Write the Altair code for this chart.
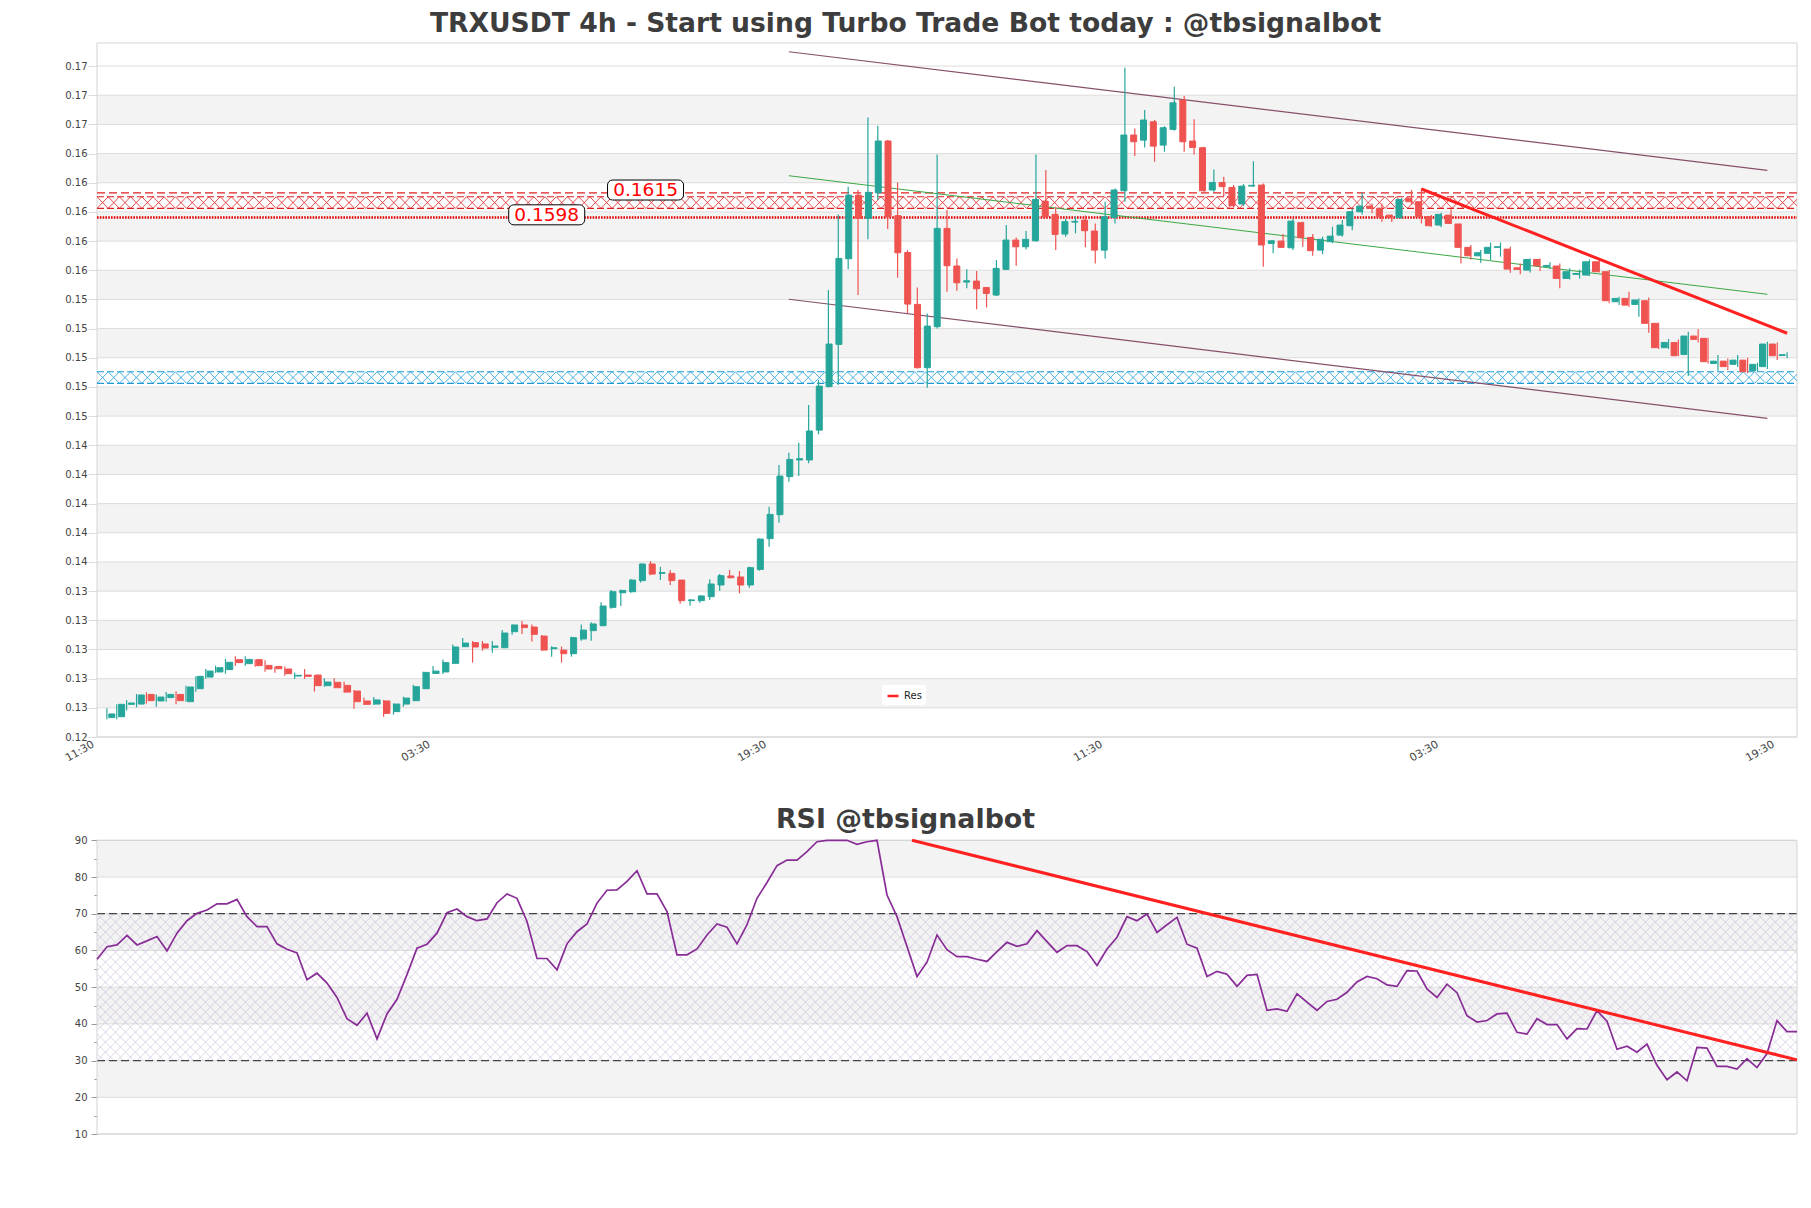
import json
import altair as alt
import pandas as pd

TITLE = "TRXUSDT 4h - Start using Turbo Trade Bot today : @tbsignalbot"
RSI_TITLE = "RSI @tbsignalbot"

opens = [
0.12533, 0.12539, 0.12624, 0.12626, 0.12692, 0.12647, 0.12670, 0.12692, 0.12642, 0.12731,
0.12811, 0.12846, 0.12862, 0.12930, 0.12903, 0.12930, 0.12891, 0.12884, 0.12866, 0.12818,
0.12825, 0.12825, 0.12752, 0.12775, 0.12754, 0.12715, 0.12647, 0.12626, 0.12647, 0.12574,
0.12626, 0.12649, 0.12731, 0.12836, 0.12846, 0.12905, 0.13019, 0.13047, 0.13038, 0.13015,
0.13012, 0.13122, 0.13168, 0.13154, 0.13092, 0.13006, 0.12996, 0.12971, 0.13072, 0.13129,
0.13163, 0.13289, 0.13389, 0.13396, 0.13472, 0.13586, 0.13522, 0.13522, 0.13476, 0.13335,
0.13335, 0.13362, 0.13442, 0.13504, 0.13497, 0.13442, 0.13549, 0.13760, 0.13924, 0.14185,
0.14299, 0.14299, 0.14504, 0.14802, 0.15092, 0.15679, 0.16115, 0.15955, 0.16131, 0.16486,
0.15974, 0.15722, 0.15366, 0.14932, 0.15213, 0.15887, 0.15629, 0.15519, 0.15526, 0.15482,
0.15430, 0.15606, 0.15807, 0.15761, 0.15802, 0.16074, 0.15983, 0.15848, 0.15930, 0.15944,
0.15869, 0.15738, 0.15962, 0.16145, 0.16527, 0.16492, 0.16618, 0.16458, 0.16566, 0.16767,
0.16486, 0.16440, 0.16150, 0.16202, 0.16168, 0.16054, 0.16177, 0.16184, 0.15784, 0.15800,
0.15754, 0.15926, 0.15825, 0.15738, 0.15796, 0.15841, 0.15905, 0.16001, 0.16040, 0.16024,
0.15978, 0.15960, 0.16093, 0.16070, 0.15967, 0.15910, 0.15978, 0.15917, 0.15757, 0.15699,
0.15716, 0.15757, 0.15745, 0.15617, 0.15601, 0.15674, 0.15624, 0.15629, 0.15544, 0.15572,
0.15567, 0.15658, 0.15590, 0.15384, 0.15407, 0.15366, 0.15391, 0.15236, 0.15069, 0.15105,
0.15023, 0.15149, 0.15133, 0.14961, 0.14977, 0.14955, 0.14984, 0.14911, 0.14939, 0.15094,
0.15016]

highs = [
0.12597, 0.12624, 0.12654, 0.12695, 0.12706, 0.12692, 0.12708, 0.12713, 0.12752, 0.12816,
0.12866, 0.12889, 0.12935, 0.12953, 0.12953, 0.12932, 0.12926, 0.12884, 0.12884, 0.12843,
0.12866, 0.12825, 0.12802, 0.12802, 0.12779, 0.12722, 0.12670, 0.12674, 0.12654, 0.12630,
0.12676, 0.12759, 0.12848, 0.12887, 0.12932, 0.13035, 0.13079, 0.13058, 0.13058, 0.13058,
0.13133, 0.13172, 0.13195, 0.13172, 0.13099, 0.13022, 0.13020, 0.13088, 0.13172, 0.13186,
0.13323, 0.13408, 0.13410, 0.13483, 0.13590, 0.13606, 0.13568, 0.13545, 0.13476, 0.13345,
0.13371, 0.13481, 0.13517, 0.13545, 0.13538, 0.13568, 0.13762, 0.13979, 0.14265, 0.14349,
0.14418, 0.14676, 0.14847, 0.15464, 0.15983, 0.16173, 0.16150, 0.16648, 0.16591, 0.16493,
0.16202, 0.15738, 0.15482, 0.15304, 0.16394, 0.16013, 0.15681, 0.15606, 0.15594, 0.15485,
0.15670, 0.15910, 0.15825, 0.15869, 0.16394, 0.16287, 0.16035, 0.15951, 0.15967, 0.15976,
0.15921, 0.16070, 0.16161, 0.16988, 0.16572, 0.16698, 0.16630, 0.16588, 0.16858, 0.16794,
0.16636, 0.16447, 0.16291, 0.16241, 0.16184, 0.16191, 0.16348, 0.16195, 0.15807, 0.15848,
0.15951, 0.15933, 0.15848, 0.15830, 0.15898, 0.15944, 0.16024, 0.16131, 0.16058, 0.16058,
0.15983, 0.16093, 0.16150, 0.16161, 0.15978, 0.15994, 0.16019, 0.15921, 0.15773, 0.15738,
0.15791, 0.15791, 0.15761, 0.15647, 0.15681, 0.15681, 0.15654, 0.15647, 0.15613, 0.15604,
0.15674, 0.15674, 0.15601, 0.15418, 0.15453, 0.15407, 0.15414, 0.15240, 0.15128, 0.15126,
0.15179, 0.15195, 0.15137, 0.15019, 0.14995, 0.15019, 0.15000, 0.14966, 0.15110, 0.15105,
0.15037]

lows = [
0.12521, 0.12521, 0.12581, 0.12603, 0.12629, 0.12608, 0.12642, 0.12624, 0.12642, 0.12711,
0.12800, 0.12839, 0.12834, 0.12889, 0.12889, 0.12882, 0.12848, 0.12841, 0.12820, 0.12798,
0.12798, 0.12711, 0.12745, 0.12734, 0.12704, 0.12594, 0.12620, 0.12620, 0.12539, 0.12553,
0.12608, 0.12645, 0.12729, 0.12832, 0.12832, 0.12900, 0.13017, 0.12910, 0.12992, 0.12978,
0.13010, 0.13101, 0.13106, 0.13054, 0.12992, 0.12951, 0.12910, 0.12951, 0.13060, 0.13060,
0.13161, 0.13280, 0.13298, 0.13389, 0.13460, 0.13510, 0.13476, 0.13442, 0.13314, 0.13300,
0.13321, 0.13340, 0.13403, 0.13488, 0.13385, 0.13424, 0.13540, 0.13705, 0.13869, 0.14150,
0.14189, 0.14276, 0.14475, 0.14797, 0.14813, 0.15606, 0.15430, 0.15812, 0.16081, 0.15882,
0.15549, 0.15304, 0.14927, 0.14795, 0.15201, 0.15453, 0.15460, 0.15476, 0.15332, 0.15345,
0.15423, 0.15601, 0.15631, 0.15743, 0.15795, 0.15962, 0.15738, 0.15830, 0.15853, 0.15757,
0.15647, 0.15681, 0.15921, 0.16070, 0.16383, 0.16442, 0.16344, 0.16412, 0.16557, 0.16412,
0.16394, 0.16138, 0.16138, 0.16109, 0.16030, 0.16040, 0.16173, 0.15624, 0.15716, 0.15757,
0.15738, 0.15761, 0.15699, 0.15710, 0.15785, 0.15830, 0.15875, 0.15983, 0.15990, 0.15933,
0.15931, 0.15955, 0.16047, 0.15921, 0.15898, 0.15894, 0.15917, 0.15647, 0.15674, 0.15652,
0.15670, 0.15693, 0.15583, 0.15572, 0.15585, 0.15595, 0.15608, 0.15476, 0.15537, 0.15544,
0.15560, 0.15585, 0.15373, 0.15361, 0.15350, 0.15281, 0.15172, 0.15060, 0.15060, 0.15012,
0.14875, 0.15105, 0.14961, 0.14911, 0.14916, 0.14936, 0.14893, 0.14905, 0.14923, 0.14984,
0.14996]

closes = [
0.12558, 0.12624, 0.12633, 0.12688, 0.12649, 0.12674, 0.12692, 0.12649, 0.12743, 0.12816,
0.12852, 0.12875, 0.12912, 0.12910, 0.12932, 0.12889, 0.12866, 0.12868, 0.12834, 0.12823,
0.12816, 0.12752, 0.12777, 0.12738, 0.12708, 0.12642, 0.12624, 0.12654, 0.12562, 0.12626,
0.12667, 0.12745, 0.12843, 0.12852, 0.12910, 0.13017, 0.13044, 0.13017, 0.13010, 0.13024,
0.13113, 0.13168, 0.13150, 0.13104, 0.12996, 0.13012, 0.12971, 0.13081, 0.13133, 0.13175,
0.13298, 0.13396, 0.13405, 0.13476, 0.13586, 0.13517, 0.13527, 0.13472, 0.13335, 0.13340,
0.13367, 0.13449, 0.13506, 0.13492, 0.13442, 0.13561, 0.13757, 0.13926, 0.14189, 0.14303,
0.14308, 0.14498, 0.14806, 0.15094, 0.15681, 0.16115, 0.15955, 0.16134, 0.16486, 0.15967,
0.15720, 0.15368, 0.14932, 0.15217, 0.15887, 0.15631, 0.15514, 0.15528, 0.15473, 0.15441,
0.15613, 0.15807, 0.15761, 0.15812, 0.16086, 0.15967, 0.15846, 0.15933, 0.15935, 0.15871,
0.15738, 0.15967, 0.16150, 0.16527, 0.16481, 0.16630, 0.16451, 0.16577, 0.16748, 0.16481,
0.16442, 0.16145, 0.16202, 0.16173, 0.16042, 0.16177, 0.16182, 0.15773, 0.15802, 0.15757,
0.15937, 0.15823, 0.15734, 0.15812, 0.15834, 0.15910, 0.16001, 0.16040, 0.16024, 0.15967,
0.15962, 0.16086, 0.16070, 0.15967, 0.15905, 0.15983, 0.15921, 0.15757, 0.15699, 0.15720,
0.15757, 0.15761, 0.15608, 0.15606, 0.15674, 0.15631, 0.15633, 0.15544, 0.15590, 0.15578,
0.15658, 0.15590, 0.15391, 0.15407, 0.15361, 0.15396, 0.15236, 0.15069, 0.15105, 0.15014,
0.15149, 0.15126, 0.14973, 0.14977, 0.14939, 0.14984, 0.14904, 0.14955, 0.15094, 0.15014,
0.15021]

rsi_values = [
57.6, 61.0, 61.5, 64.1, 61.5, 62.6, 63.8, 59.9, 64.7, 68.1,
70.1, 71.0, 72.7, 72.7, 73.9, 69.2, 66.5, 66.5, 61.8, 60.3,
59.3, 52.0, 53.8, 51.1, 47.2, 41.4, 39.6, 42.9, 35.9, 42.7,
46.7, 53.4, 60.6, 61.7, 64.7, 70.3, 71.3, 69.2, 68.1, 68.6,
73.0, 75.4, 74.2, 67.9, 57.8, 57.8, 54.7, 61.8, 65.1, 67.2,
72.9, 76.4, 76.5, 78.8, 81.7, 75.4, 75.4, 70.6, 58.8, 58.8,
60.4, 64.2, 67.2, 66.3, 61.8, 67.0, 74.2, 78.5, 83.1, 84.6,
84.6, 86.9, 89.6, 92.0, 92.5, 92.0, 88.9, 89.6, 90.8, 75.1,
69.2, 61.1, 52.9, 56.8, 64.2, 60.2, 58.3, 58.3, 57.6, 57.0,
59.7, 62.2, 61.1, 61.8, 65.4, 62.4, 59.5, 61.3, 61.3, 59.7,
55.9, 60.4, 63.6, 69.2, 68.1, 69.9, 64.9, 67.0, 69.0, 61.7,
60.6, 52.9, 54.3, 53.5, 50.2, 53.2, 53.5, 43.7, 44.1, 43.4,
48.2, 45.9, 43.7, 46.1, 46.7, 48.6, 51.4, 52.9, 52.3, 50.6,
50.2, 54.5, 54.4, 49.5, 47.2, 50.8, 48.5, 42.2, 40.5, 40.9,
42.7, 42.9, 37.7, 37.2, 41.4, 39.8, 39.8, 35.9, 38.7, 38.6,
43.6, 40.7, 33.1, 33.9, 32.3, 34.5, 28.7, 24.8, 26.9, 24.5,
33.6, 33.4, 28.4, 28.4, 27.7, 30.5, 28.1, 31.9, 40.9, 37.9,
37.9]

price_ticks = [0.124, 0.126, 0.128, 0.130, 0.132, 0.134, 0.136, 0.138, 0.140, 0.142,
               0.144, 0.146, 0.148, 0.150, 0.152, 0.154, 0.156, 0.158, 0.160, 0.162,
               0.164, 0.166, 0.168, 0.170]
rsi_ticks = [10, 20, 30, 40, 50, 60, 70, 80, 90]
rsi_minor_ticks = [15, 25, 35, 45, 55, 65, 75, 85]
rsi_levels = [30, 70]
x_tick_pos = [-1, 33, 67, 101, 135, 169]
x_tick_labels = ["11:30", "03:30", "19:30", "11:30", "03:30", "19:30"]

res_zone = [0.16024, 0.16104]
sup_zone = [0.14825, 0.14904]
res_dash_level = [0.16131]
res_dot_level = [0.15962]
level_labels = ["0.1615", "0.1598"]
level_label_pos = [54.5, 44.5]
level_label_val = [0.1615, 0.1598]

channel_x = [69, 168]
channel_upper = [0.17098, 0.16285]
channel_lower = [0.15401, 0.14585]
mid_line = [0.16248, 0.15435]
res_trend_x = [133, 170]
res_trend_y = [0.16157, 0.15168]
rsi_trend_x = [81.5, 170]
rsi_trend_y = [90.0, 30.2]

# ---------------- layout / style ----------------
W = 1700
H = 1091
PRICE_H = 694
RSI_TOP = 797.3
GREEN = "#26a69a"
RED = "#ef5350"
BAND = "#f3f3f3"
GRID = "#dcdcdc"
FRAME = "#d4d4d4"
LABEL = "#444444"
CELL = 11.2

PX = alt.Scale(domain=[-1, 171], range=[0, W], nice=False, zero=False)
PY = alt.Scale(domain=[0.124, 0.17158], range=[PRICE_H, 0], nice=False, zero=False)
RX = alt.Scale(domain=[0, 170], range=[0, W], nice=False, zero=False)
RY = alt.Scale(domain=[10, 90], range=[H, RSI_TOP], nice=False, zero=False, clamp=True)
RSI_PX = (H - RSI_TOP) / 80.0

one = pd.DataFrame({"k": [0]})
candles = pd.DataFrame({"i": list(range(len(opens))), "open": opens, "high": highs,
                        "low": lows, "close": closes})
rsi_df = pd.DataFrame({"i": list(range(len(rsi_values))), "rsi": rsi_values})
price_bands = pd.DataFrame({"lo": [price_ticks[i] for i in range(1, len(price_ticks) - 1, 2)],
                            "hi": [price_ticks[i + 1] for i in range(1, len(price_ticks) - 1, 2)]})
rsi_bands = pd.DataFrame({"lo": [rsi_ticks[i] for i in range(1, len(rsi_ticks) - 1, 2)],
                          "hi": [rsi_ticks[i + 1] for i in range(1, len(rsi_ticks) - 1, 2)]})

layers = []

# price panel background bands + grid + y axis
layers.append(alt.Chart(price_bands).mark_rect(color=BAND).encode(
    x=alt.value(0), x2=alt.value(W),
    y=alt.Y("lo:Q", scale=PY, axis=None), y2="hi:Q"))
layers.append(alt.Chart(pd.DataFrame({"v": price_ticks})).mark_rule(color=GRID, strokeWidth=1).encode(
    x=alt.value(0), x2=alt.value(W),
    y=alt.Y("v:Q", scale=PY, axis=alt.Axis(
        values=price_ticks, labelExpr="format(datum.value, '.2f')", grid=False, domain=False,
        tickSize=9, tickColor=GRID, labelPadding=1, labelFontSize=10, labelColor=LABEL,
        labelFont="DejaVu Sans", title=None, orient="left", labelFlush=False, labelOverlap=False))))

# RSI panel background bands + grid + y axis
layers.append(alt.Chart(rsi_bands).mark_rect(color=BAND).encode(
    x=alt.value(0), x2=alt.value(W),
    y=alt.Y("lo:Q", scale=RY, axis=None), y2="hi:Q"))
layers.append(alt.Chart(pd.DataFrame({"v": rsi_ticks})).mark_rule(color=GRID, strokeWidth=1).encode(
    x=alt.value(0), x2=alt.value(W),
    y=alt.Y("v:Q", scale=RY, axis=alt.Axis(
        values=rsi_ticks, grid=False, domain=False, tickSize=6, tickColor="#999999",
        labelPadding=4, labelFontSize=10, labelColor=LABEL, labelFont="DejaVu Sans",
        title=None, orient="left", labelFlush=False, labelOverlap=False))))
layers.append(alt.Chart(pd.DataFrame({"v": rsi_minor_ticks})).mark_point(opacity=0).encode(
    x=alt.value(0),
    y=alt.Y("v:Q", scale=RY, axis=alt.Axis(
        values=rsi_minor_ticks, labels=False, grid=False, domain=False, tickSize=3,
        tickColor="#999999", title=None, orient="left"))))

# RSI cross hatch between 30 and 70
hh = (70 - 30) * RSI_PX
rsi_hatch = alt.Chart(alt.sequence(-16, 172, as_="k")).transform_calculate(
    a="datum.k * 10", b=f"datum.k * 10 + {hh}")
for xa, xb in (("a", "b"), ("b", "a")):
    layers.append(rsi_hatch.mark_rule(color="#bfaed3", strokeWidth=0.6, opacity=0.85, clip=True).encode(
        x=alt.X(f"{xa}:Q", scale=None), x2=alt.X2(f"{xb}:Q"),
        y=alt.YDatum(70, scale=RY, axis=None), y2=alt.Y2Datum(30)))

layers.append(alt.Chart(pd.DataFrame({"v": rsi_levels})).mark_rule(
    color="#444444", strokeWidth=1.2, strokeDash=[8, 4]).encode(
    x=alt.value(0), x2=alt.value(W), y=alt.Y("v:Q", scale=RY, axis=None)))

# frames
layers.append(alt.Chart(one).mark_rect(fill="white", fillOpacity=0, stroke=FRAME, strokeWidth=1).encode(
    x=alt.value(0), x2=alt.value(W), y=alt.value(0), y2=alt.value(PRICE_H)))
layers.append(alt.Chart(one).mark_rect(fill="white", fillOpacity=0, stroke=FRAME, strokeWidth=1).encode(
    x=alt.value(0), x2=alt.value(W), y=alt.value(RSI_TOP), y2=alt.value(H)))

# zones (hatched)
def zone(lo, hi, color):
    out = []
    base = alt.Chart(alt.sequence(0, 155, as_="k")).transform_calculate(
        a=f"datum.k * {CELL}", b=f"(datum.k + 1) * {CELL}")
    for xa, xb in (("a", "b"), ("b", "a")):
        out.append(base.mark_rule(color=color, strokeWidth=0.8, clip=True).encode(
            x=alt.X(f"{xa}:Q", scale=None), x2=alt.X2(f"{xb}:Q"),
            y=alt.YDatum(hi, scale=PY, axis=None), y2=alt.Y2Datum(lo)))
    out.append(alt.Chart(pd.DataFrame({"v": [lo, hi]})).mark_rule(
        color=color, strokeWidth=1.2, strokeDash=[7, 3]).encode(
        x=alt.value(0), x2=alt.value(W), y=alt.Y("v:Q", scale=PY, axis=None)))
    return out

layers += zone(res_zone[0], res_zone[1], "#e02020")
layers += zone(sup_zone[0], sup_zone[1], "#1e9bd7")
layers.append(alt.Chart(pd.DataFrame({"v": res_dash_level})).mark_rule(
    color="#e02020", strokeWidth=1.2, strokeDash=[8, 4]).encode(
    x=alt.value(0), x2=alt.value(W), y=alt.Y("v:Q", scale=PY, axis=None)))
layers.append(alt.Chart(pd.DataFrame({"v": res_dot_level})).mark_rule(
    color="#e00000", strokeWidth=2.6, strokeDash=[1.6, 1.2]).encode(
    x=alt.value(0), x2=alt.value(W), y=alt.Y("v:Q", scale=PY, axis=None)))

# channel lines
def seg(xs, ys, color, width, xs_scale=PX, ys_scale=PY):
    return alt.Chart(pd.DataFrame({"x": xs, "y": ys})).mark_line(
        color=color, strokeWidth=width).encode(
        x=alt.X("x:Q", scale=xs_scale, axis=None), y=alt.Y("y:Q", scale=ys_scale, axis=None))

layers.append(seg(channel_x, channel_upper, "#86506a", 1.2))
layers.append(seg(channel_x, channel_lower, "#86506a", 1.2))
layers.append(seg(channel_x, mid_line, "#3aa845", 1.0))

# candles
cond = alt.condition("datum.close >= datum.open", alt.value(GREEN), alt.value(RED))
label_expr = f"{json.dumps(x_tick_labels)}[indexof({json.dumps(x_tick_pos)}, datum.value)]"
layers.append(alt.Chart(candles).mark_rule(strokeWidth=1.2).encode(
    x=alt.X("i:Q", scale=PX, axis=alt.Axis(
        values=x_tick_pos, labelExpr=label_expr, labelAngle=-30, labelAlign="right",
        labelBaseline="top", ticks=False, domain=False, grid=False, offset=-(H - PRICE_H),
        labelFontSize=10.8, labelColor=LABEL, labelFont="DejaVu Sans", labelPadding=1,
        labelOffset=-7, title=None, orient="bottom", labelFlush=False, labelOverlap=False)),
    y=alt.Y("low:Q", scale=PY, axis=None), y2="high:Q", color=cond))
layers.append(alt.Chart(candles).mark_bar(size=6, strokeWidth=1).encode(
    x=alt.X("i:Q", scale=PX, axis=None),
    y=alt.Y("open:Q", scale=PY, axis=None), y2="close:Q", color=cond, stroke=cond))

# thick resistance trend line with legend
layers.append(alt.Chart(pd.DataFrame({"x": res_trend_x, "y": res_trend_y, "name": ["Res", "Res"]})).mark_line(
    strokeWidth=3).encode(
    x=alt.X("x:Q", scale=PX, axis=None), y=alt.Y("y:Q", scale=PY, axis=None),
    color=alt.Color("name:N", scale=alt.Scale(domain=["Res"], range=["#ff2020"]),
                    legend=alt.Legend(orient="none", legendX=785, legendY=642, title=None,
                                      symbolType="stroke", symbolStrokeWidth=2.5, symbolSize=120,
                                      labelFontSize=10, labelFont="DejaVu Sans", fillColor="white",
                                      padding=4, labelColor="#222222"))))

# level labels
lab = pd.DataFrame({"i": level_label_pos, "v": level_label_val, "t": level_labels})
layers.append(alt.Chart(lab).mark_rect(fill="white", stroke="black", strokeWidth=1, cornerRadius=5,
                                       xOffset=-38, x2Offset=38, yOffset=-10, y2Offset=10).encode(
    x=alt.X("i:Q", scale=PX, axis=None), x2="i:Q",
    y=alt.Y("v:Q", scale=PY, axis=None), y2="v:Q"))
layers.append(alt.Chart(lab).mark_text(color="#ff0000", fontSize=18.5, font="DejaVu Sans",
                                       align="center", baseline="middle").encode(
    x=alt.X("i:Q", scale=PX, axis=None), y=alt.Y("v:Q", scale=PY, axis=None), text="t:N"))

# RSI line and trend
layers.append(alt.Chart(rsi_df).mark_line(color="#882d96", strokeWidth=1.7).encode(
    x=alt.X("i:Q", scale=RX, axis=None), y=alt.Y("rsi:Q", scale=RY, axis=None)))
layers.append(seg(rsi_trend_x, rsi_trend_y, "#ff2020", 3, RX, RY))

# titles
layers.append(alt.Chart(pd.DataFrame({"t": [TITLE]})).mark_text(
    fontSize=26.6, fontWeight="bold", color="#3d3d3d", font="DejaVu Sans",
    align="center", baseline="middle").encode(
    x=alt.value(808.5), y=alt.value(-19), text="t:N"))
layers.append(alt.Chart(pd.DataFrame({"t": [RSI_TITLE]})).mark_text(
    fontSize=26.8, fontWeight="bold", color="#3d3d3d", font="DejaVu Sans",
    align="center", baseline="middle").encode(
    x=alt.value(808.5), y=alt.value(777), text="t:N"))

chart = alt.layer(*layers).resolve_scale(
    x="independent", y="independent", color="independent"
).properties(
    width=W, height=H,
    autosize=alt.AutoSizeParams(type="none"),
    padding={"left": 97, "top": 43, "right": 14, "bottom": 74},
).configure(font="DejaVu Sans", background="white").configure_view(stroke=None)

chart.save("out.html", embed_options={"renderer": "svg", "actions": False})
